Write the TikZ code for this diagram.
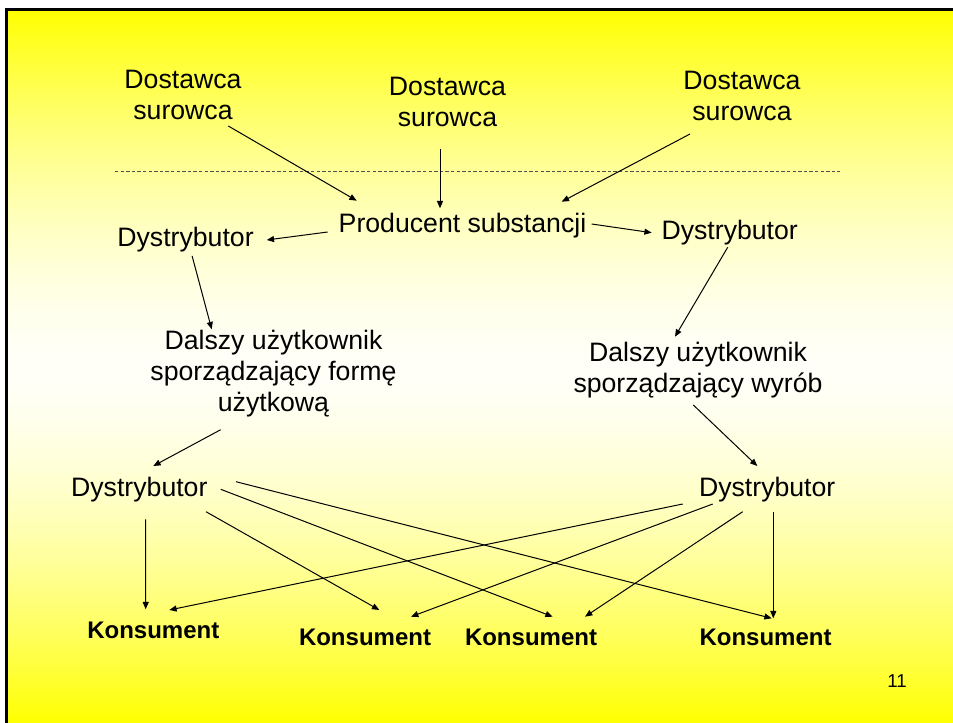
\documentclass[tikz,border=0pt]{standalone}
\usepackage{fontspec}
\setmainfont{Liberation Sans}
\usetikzlibrary{arrows.meta}
\definecolor{ylw}{RGB}{255,255,0}
\definecolor{pale}{RGB}{255,255,248}
\definecolor{dashgray}{RGB}{80,80,80}
\tikzset{
  lbl/.style={inner sep=0pt, anchor=base, font=\fontsize{20pt}{23.25pt}\selectfont},
  cons/.style={inner sep=0pt, anchor=base, font=\fontsize{18pt}{22pt}\selectfont\bfseries},
  pnum/.style={inner sep=0pt, anchor=base, font=\fontsize{14pt}{17pt}\selectfont},
  arr/.style={line width=0.75pt, -{Triangle[length=5.5pt,width=4.5pt]}},
  sep/.style={line width=0.75pt, dashgray, dash pattern=on 2.6pt off 1.6pt}
}
\newcommand{\ml}[1]{\renewcommand{\arraystretch}{1}\setlength{\tabcolsep}{0pt}\begin{tabular}[t]{c}#1\end{tabular}}
\begin{document}
\begin{tikzpicture}[x=0.75pt,y=-0.75pt]
\useasboundingbox (0,0) rectangle (953,723);
\clip (0,0) rectangle (953,723);
\fill[white] (0,0) rectangle (953,723);
% vertical gradient: yellow - near white - yellow
\foreach \i in {0,...,143} {
  \pgfmathsetmacro{\ya}{8+5*\i}
  \pgfmathsetmacro{\yb}{\ya+5.6}
  \pgfmathsetmacro{\d}{min(1,abs(\ya+2.5-367)/357)}
  \pgfmathsetmacro{\f}{max(0,min(100,100*(1-\d^1.6)))}
  \fill[pale!\f!ylw] (6.5,\ya) rectangle (960,\yb);
}
\draw[line width=2.25pt] (6.5,740) -- (6.5,9.5) -- (970,9.5);

% nodes
\node[lbl] (d1) at (183,89) {\ml{Dostawca\\surowca}};
\node[lbl] (d2) at (447.5,96) {\ml{Dostawca\\surowca}};
\node[lbl] (d3) at (742,89.3) {\ml{Dostawca\\surowca}};
\node[lbl] (prod) at (462.5,232.7) {Producent substancji};
\node[lbl] (dtl) at (185.5,246.7) {Dystrybutor};
\node[lbl] (dtr) at (729.7,240) {Dystrybutor};
\node[lbl] (dal1) at (273.5,349.5) {\ml{Dalszy użytkownik\\sporządzający formę\\użytkową}};
\node[lbl] (dal2) at (698,361.7) {\ml{Dalszy użytkownik\\sporządzający wyrób}};
\node[lbl] (dbl) at (139.3,496.7) {Dystrybutor};
\node[lbl] (dbr) at (767.2,496.7) {Dystrybutor};
\node[cons] (k1) at (153.3,638.3) {Konsument};
\node[cons] (k2) at (365,645) {Konsument};
\node[cons] (k3) at (531,645) {Konsument};
\node[cons] (k4) at (765.5,645) {Konsument};
\node[pnum] (num) at (897,687) {11};

% dashed separator
\coordinate (sepL) at (115,172);
\coordinate (sepR) at (840,172);
\draw[sep] (sepL) -- (sepR);

% connectors
\draw[arr] ([shift={(45.3,37)}]d1.base) -- ([shift={(-105.8,-32)}]prod.base);
\draw[arr] ([shift={(-7.5,53)}]d2.base) -- ([shift={(-22.5,-24.4)}]prod.base);
\draw[arr] ([shift={(-52,44.7)}]d3.base) -- ([shift={(99.2,-31)}]prod.base);
\draw[arr] ([shift={(-134.8,-0.7)}]prod.base) -- ([shift={(81.2,-6.7)}]dtl.base);
\draw[arr] ([shift={(129.2,-8.7)}]prod.base) -- ([shift={(-78,-7.3)}]dtr.base);
\draw[arr] ([shift={(6.6,9.2)}]dtl.base) -- ([shift={(-61.8,-20.2)}]dal1.base);
\draw[arr] ([shift={(-2,7.3)}]dtr.base) -- ([shift={(-23,-25)}]dal2.base);
\draw[arr] ([shift={(-52.8,80.2)}]dal1.base) -- ([shift={(14,-30.7)}]dbl.base);
\draw[arr] ([shift={(-4.7,43.3)}]dal2.base) -- ([shift={(-9.9,-30.7)}]dbr.base);
\draw[arr] ([shift={(6.4,22.6)}]dbl.base) -- ([shift={(-7.6,-29)}]k1.base);
\draw[arr] ([shift={(66.7,15)}]dbl.base) -- ([shift={(14.3,-35)}]k2.base);
\draw[arr] ([shift={(81.4,-7.4)}]dbl.base) -- ([shift={(21.7,-28.3)}]k3.base);
\draw[arr] ([shift={(96.7,-15)}]dbl.base) -- ([shift={(6.2,-26.7)}]k4.base);
\draw[arr] ([shift={(-84.5,7.3)}]dbr.base) -- ([shift={(16,-28.3)}]k1.base);
\draw[arr] ([shift={(-54.5,7.3)}]dbr.base) -- ([shift={(46,-28.3)}]k2.base);
\draw[arr] ([shift={(-24.5,15)}]dbr.base) -- ([shift={(54,-28.3)}]k3.base);
\draw[arr] ([shift={(6.1,15)}]dbr.base) -- ([shift={(7.8,-26.7)}]k4.base);
\end{tikzpicture}
\end{document}
